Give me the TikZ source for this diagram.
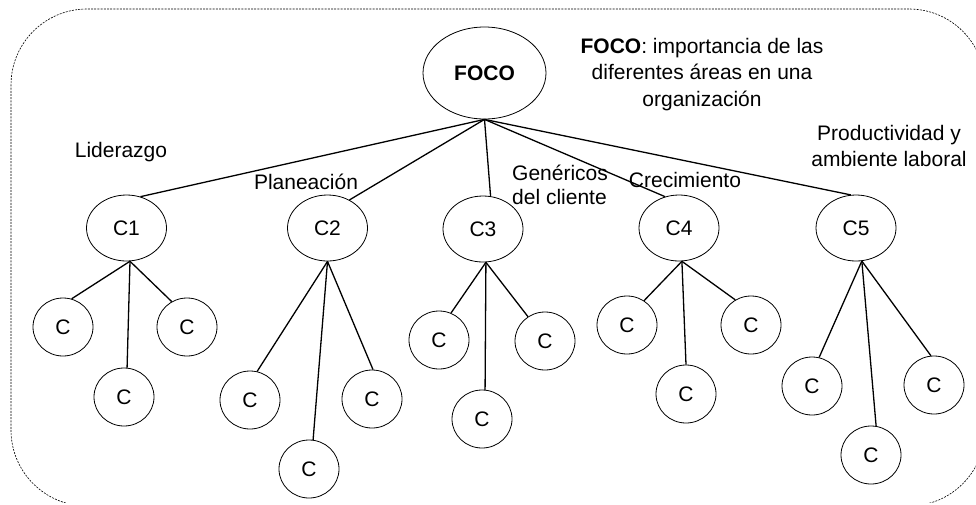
\documentclass[tikz,border=0pt]{standalone}
\usepackage{fontspec}
\setmainfont{Liberation Sans}
\usetikzlibrary{shapes.geometric}
\begin{document}
\begin{tikzpicture}[x=1pt,y=-1pt,
  txt/.style={font=\fontsize{21}{26}\selectfont, inner sep=0pt},
  top/.style={ellipse, draw, line width=0.8pt, inner sep=0pt, minimum width=123pt, minimum height=92pt, font=\fontsize{21}{26}\selectfont\bfseries},
  lvlone/.style={ellipse, draw, line width=0.8pt, inner sep=0pt, minimum width=80pt, minimum height=66pt, font=\fontsize{21}{26}\selectfont},
  leaf/.style={ellipse, draw, line width=0.8pt, inner sep=0pt, minimum width=60pt, minimum height=58pt, font=\fontsize{21}{26}\selectfont},
  link/.style={line width=1.3pt},
  frame/.style={draw, line width=0.6pt, dash pattern=on 2pt off 1.2pt, rounded corners=76pt}
]
\useasboundingbox (0,0) rectangle (976,504);
\begin{scope}
\clip (0,0) rectangle (976,502);
\path[frame] (70,506) -- (11,506) -- (11,9) -- (985,9) -- (985,506) -- (930,506);
\end{scope}

% nodes
\node[top] (foco) at (484.5,73) {FOCO};
\node[txt, align=center, font=\fontsize{21}{26.5}\selectfont] (note) at (702,74.5) {\textbf{FOCO}: importancia de las\\diferentes áreas en una\\organización};

\node[lvlone] (c1) at (126.5,228) {C1};
\node[lvlone] (c2) at (327.5,228) {C2};
\node[lvlone] (c3) at (483,229) {C3};
\node[lvlone] (c4) at (679,228) {C4};
\node[lvlone] (c5) at (856,228) {C5};

\node[txt] (l1) at (121,152) {Liderazgo};
\node[txt] (l2) at (306,182) {Planeación};
\node[txt, align=left, anchor=west, font=\fontsize{21}{24}\selectfont] (l3) at (512,185) {Genéricos\\del cliente};
\node[txt] (l4) at (685,180) {Crecimiento};
\node[txt, align=center] (l5) at (889,146) {Productividad y\\ambiente laboral};

\node[leaf] (c1a) at (63,327) {C};
\node[leaf] (c1b) at (124,397) {C};
\node[leaf] (c1c) at (187,327) {C};

\node[leaf] (c2a) at (250,400) {C};
\node[leaf] (c2b) at (309,469) {C};
\node[leaf] (c2c) at (372,399) {C};

\node[leaf] (c3a) at (439,340) {C};
\node[leaf] (c3b) at (482,419) {C};
\node[leaf] (c3c) at (545,341) {C};

\node[leaf] (c4a) at (627,325) {C};
\node[leaf] (c4b) at (686,394) {C};
\node[leaf] (c4c) at (751,325) {C};

\node[leaf] (c5a) at (812,386) {C};
\node[leaf] (c5b) at (871,455) {C};
\node[leaf] (c5c) at (934,385) {C};

% connectors from FOCO
\draw[link] (foco.south) -- (c1.66);
\draw[link] (foco.south) -- (c2.52);
\draw[link] (foco.south) -- (c3.77);
\draw[link] (foco.south) -- (c4.114);
\draw[link] (foco.south) -- (c5.99);

% level two
\draw[link] (c1.-84) -- (c1a.73);
\draw[link] (c1.-84) -- (c1b.84);
\draw[link] (c1.-84) -- (c1c.121);

\draw[link] (c2.-90) -- (c2a.76);
\draw[link] (c2.-90) -- (c2b.82);
\draw[link] (c2.-90) -- (c2c.88);

\draw[link] (c3.-85) -- (c3a.66);
\draw[link] (c3.-85) -- (c3b.84);
\draw[link] (c3.-85) -- (c3c.125);

\draw[link] (c4.-85) -- (c4a.55);
\draw[link] (c4.-85) -- (c4b.90);
\draw[link] (c4.-85) -- (c4c.122);

\draw[link] (c5.-80) -- (c5a.76);
\draw[link] (c5.-80) -- (c5b.80);
\draw[link] (c5.-80) -- (c5c.96);
\end{tikzpicture}
\end{document}
